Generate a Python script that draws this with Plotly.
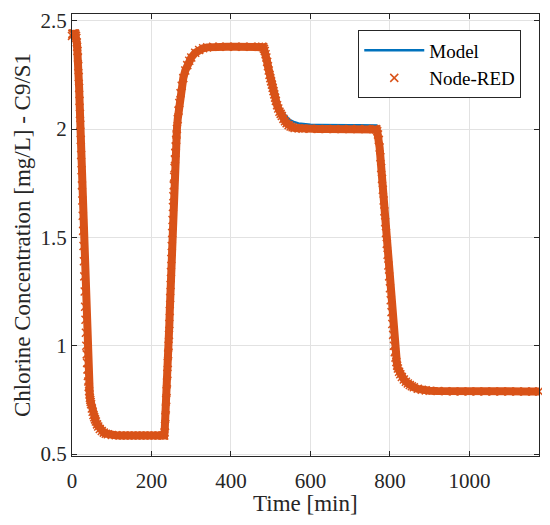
import plotly.graph_objects as go

# ---------------- data ----------------
# Segment A: initial drop (0-230 min)
time_a = [0, 1, 2, 3, 4, 5, 6, 7, 8, 9, 10, 11, 12, 13, 14, 15, 16, 17, 18, 19,
          20, 21, 22, 23, 24, 25, 26, 27, 28, 29, 30, 31, 32, 33, 34, 35, 36, 37, 38, 39,
          40, 41, 42, 43, 44, 45, 46, 47, 48,
          50, 52, 54, 56, 58, 60,
          63, 66, 70, 75, 80, 85, 90,
          100, 110, 120, 130, 140, 150, 160, 170, 180, 190, 200, 210, 220, 230]
node_red_a = [2.43, 2.44, 2.44, 2.44, 2.44, 2.44, 2.44, 2.44, 2.44, 2.43, 2.43, 2.42, 2.40, 2.38, 2.36, 2.33, 2.29, 2.24, 2.19, 2.13,
              2.07, 2.02, 1.95, 1.88, 1.81, 1.74, 1.67, 1.60, 1.53, 1.46, 1.39, 1.32, 1.25, 1.18, 1.12, 1.06, 1.00, 0.96, 0.92, 0.89,
              0.86, 0.835, 0.81, 0.79, 0.775, 0.76, 0.75, 0.74, 0.73,
              0.71, 0.695, 0.68, 0.67, 0.66, 0.65,
              0.637, 0.627, 0.616, 0.606, 0.599, 0.594, 0.591,
              0.588, 0.587, 0.586, 0.586, 0.586, 0.586, 0.586, 0.586, 0.586, 0.586, 0.586, 0.586, 0.586, 0.586]
model_a = [2.43, 2.44, 2.44, 2.44, 2.44, 2.44, 2.44, 2.44, 2.44, 2.43, 2.43, 2.42, 2.40, 2.38, 2.36, 2.33, 2.29, 2.24, 2.19, 2.13,
           2.07, 2.02, 1.95, 1.88, 1.81, 1.74, 1.67, 1.60, 1.53, 1.46, 1.39, 1.32, 1.25, 1.18, 1.12, 1.06, 1.00, 0.96, 0.92, 0.89,
           0.86, 0.835, 0.81, 0.79, 0.775, 0.76, 0.75, 0.74, 0.73,
           0.71, 0.695, 0.68, 0.67, 0.66, 0.65,
           0.637, 0.627, 0.616, 0.606, 0.599, 0.594, 0.591,
           0.588, 0.587, 0.586, 0.586, 0.586, 0.586, 0.586, 0.586, 0.586, 0.586, 0.586, 0.586, 0.586, 0.586]

# Segment B: rise to the 2.38 plateau (232-478 min)
time_b = [232, 233, 234, 235, 236, 237, 238, 239, 240, 241, 242, 243, 244, 245, 246, 247, 248, 249, 250, 251,
          252, 253, 254, 255,
          256, 257, 258, 259, 260, 261, 262, 263, 264,
          266, 268, 270, 273, 276, 280, 285, 290, 295, 300, 310, 320, 330, 340, 355, 370, 390, 410, 430, 450, 470, 478]
node_red_b = [0.586, 0.60, 0.63, 0.67, 0.71, 0.75, 0.79, 0.83, 0.87, 0.92, 0.96, 1.00, 1.05, 1.10, 1.16, 1.22, 1.28, 1.34, 1.40, 1.46,
              1.52, 1.58, 1.64, 1.69,
              1.74, 1.78, 1.82, 1.86, 1.89, 1.92, 1.95, 1.975, 2.00,
              2.045, 2.085, 2.12, 2.165, 2.20, 2.235, 2.27, 2.295, 2.315, 2.33, 2.352, 2.365, 2.373, 2.377, 2.38, 2.38, 2.38, 2.38, 2.38, 2.38, 2.38, 2.38]
model_b = [0.586, 0.60, 0.63, 0.67, 0.71, 0.75, 0.79, 0.83, 0.87, 0.92, 0.96, 1.00, 1.05, 1.10, 1.16, 1.22, 1.28, 1.34, 1.40, 1.46,
           1.52, 1.58, 1.64, 1.69,
           1.74, 1.78, 1.82, 1.86, 1.89, 1.92, 1.95, 1.975, 2.00,
           2.045, 2.085, 2.12, 2.165, 2.20, 2.235, 2.27, 2.295, 2.315, 2.33, 2.352, 2.365, 2.373, 2.377, 2.38, 2.38, 2.38, 2.38, 2.38, 2.38, 2.38, 2.38]

# Segment C: drop to the 2.0 plateau (481-764 min)
time_c = [481, 483, 485, 487, 489, 491, 493, 495, 497, 499, 501, 503, 505, 507, 509, 511, 513, 516, 519, 522,
          525, 528, 532, 536, 540, 545, 550, 555, 560, 570, 580, 600, 620, 640, 660, 680, 700, 720, 740, 760, 764]
node_red_c = [2.378, 2.37, 2.36, 2.345, 2.33, 2.31, 2.29, 2.27, 2.25, 2.235, 2.22, 2.205, 2.19, 2.175, 2.16, 2.145, 2.13, 2.11, 2.095, 2.08,
              2.07, 2.06, 2.047, 2.036, 2.027, 2.018, 2.012, 2.008, 2.005, 2.003, 2.002, 2.001, 2.0, 2.0, 2.0, 2.0, 2.0, 2.0, 2.0, 2.0, 2.0]
model_c = [2.378, 2.372, 2.363, 2.35, 2.336, 2.318, 2.30, 2.282, 2.264, 2.248, 2.233, 2.219, 2.205, 2.192, 2.179, 2.166, 2.154, 2.137, 2.122, 2.108,
           2.097, 2.087, 2.075, 2.065, 2.056, 2.047, 2.04, 2.035, 2.031, 2.026, 2.023, 2.02, 2.019, 2.018, 2.018, 2.018, 2.018, 2.018, 2.018, 2.018, 2.018]

# Segment D: final drop to the 0.79 plateau (766-1175 min)
time_d = [766, 768, 770, 772, 774, 776, 778, 780, 782, 784, 786, 788, 790, 792, 794, 796, 798, 800, 802, 804,
          806, 808, 810, 812, 814, 816, 818, 820, 823, 826, 830, 835, 840, 845, 850, 855, 860, 870, 880, 890,
          900, 920, 940, 960, 980, 1000, 1020, 1040, 1060, 1080, 1100, 1120, 1140, 1160, 1175]
node_red_d = [1.998, 1.99, 1.975, 1.95, 1.915, 1.87, 1.82, 1.77, 1.72, 1.67, 1.62, 1.57, 1.52, 1.47, 1.42, 1.37, 1.32, 1.265, 1.21, 1.155,
              1.10, 1.05, 1.00, 0.97, 0.945, 0.925, 0.908, 0.895, 0.88, 0.868, 0.856, 0.844, 0.834, 0.826, 0.819, 0.813, 0.808, 0.801, 0.797, 0.794,
              0.792, 0.791, 0.79, 0.789, 0.789, 0.789, 0.789, 0.789, 0.789, 0.789, 0.789, 0.789, 0.789, 0.789, 0.789]
model_d = [2.016, 2.007, 1.99, 1.962, 1.925, 1.88, 1.83, 1.78, 1.73, 1.68, 1.63, 1.58, 1.53, 1.48, 1.43, 1.38, 1.33, 1.275, 1.22, 1.165,
           1.11, 1.06, 1.012, 0.982, 0.958, 0.938, 0.921, 0.908, 0.893, 0.881, 0.869, 0.857, 0.847, 0.838, 0.83, 0.823, 0.817, 0.808, 0.802, 0.798,
           0.795, 0.792, 0.791, 0.79, 0.789, 0.789, 0.789, 0.789, 0.789, 0.789, 0.789, 0.789, 0.789, 0.789, 0.789]

time_min = time_a + time_b + time_c + time_d
node_red = node_red_a + node_red_b + node_red_c + node_red_d
model = model_a + model_b + model_c + model_d

x_ticks = [0, 200, 400, 600, 800, 1000]
y_ticks = [0.5, 1, 1.5, 2, 2.5]
y_tick_text = ["0.5", "1", "1.5", "2", "2.5"]
x_title = "Time [min]"
y_title = "Chlorine Concentration [mg/L] - C9/S1"

# ---------------- styling ----------------
BLUE = "#0072BD"
ORANGE = "#D95319"
AXC = "#262626"
FONT = "Liberation Serif, Times New Roman, serif"

fig = go.Figure()
fig.add_trace(go.Scatter(x=time_min, y=model, mode="lines", name="Model",
                         line=dict(color=BLUE, width=2.5)))
fig.add_trace(go.Scatter(x=time_min, y=node_red, mode="lines", showlegend=False,
                         hoverinfo="skip", line=dict(color=ORANGE, width=8)))
fig.add_trace(go.Scatter(x=time_min, y=node_red, mode="markers", name="Node-RED",
                         cliponaxis=False,
                         marker=dict(symbol="x-thin", size=8, color=ORANGE,
                                     line=dict(color=ORANGE, width=1.5))))

# the page body adds an 8 px offset, so the figure is 8 px smaller each way
fig.update_layout(
    width=542, height=517,
    margin=dict(l=64, r=11, t=6, b=69),
    paper_bgcolor="white", plot_bgcolor="white",
    font=dict(family=FONT, color=AXC, size=21),
    legend=dict(x=0.962, y=0.963, xanchor="right", yanchor="top",
                bgcolor="white", bordercolor=AXC, borderwidth=1,
                font=dict(family=FONT, size=19, color="black"),
                itemwidth=60, tracegroupgap=0),
    annotations=[
        dict(text=x_title, xref="paper", yref="paper", x=0.5, y=0, yshift=-47,
             xanchor="center", yanchor="middle", showarrow=False,
             font=dict(family=FONT, size=23, color=AXC)),
        dict(text=y_title, xref="paper", yref="paper", x=0, y=0.5, xshift=-50,
             xanchor="center", yanchor="middle", textangle=-90, showarrow=False,
             borderpad=0,
             font=dict(family=FONT, size=23, color=AXC)),
    ],
)
fig.update_xaxes(range=[0, 1175], tickvals=x_ticks, ticks="inside", ticklen=5,
                 tickcolor=AXC, showline=True, linecolor=AXC, linewidth=1,
                 mirror="ticks", showgrid=True, gridcolor="#e2e2e2", gridwidth=1,
                 zeroline=False, automargin=False, ticklabelstandoff=6,
                 ticklabeloverflow="allow",
                 tickfont=dict(family=FONT, size=21, color=AXC))
fig.update_yaxes(range=[0.491, 2.531], tickvals=y_ticks, ticktext=y_tick_text,
                 ticks="inside", ticklen=5,
                 tickcolor=AXC, showline=True, linecolor=AXC, linewidth=1,
                 mirror="ticks", showgrid=True, gridcolor="#e2e2e2", gridwidth=1,
                 zeroline=False, automargin=False, ticklabeloverflow="allow",
                 tickfont=dict(family=FONT, size=21, color=AXC))

fig.write_html("out.html")
